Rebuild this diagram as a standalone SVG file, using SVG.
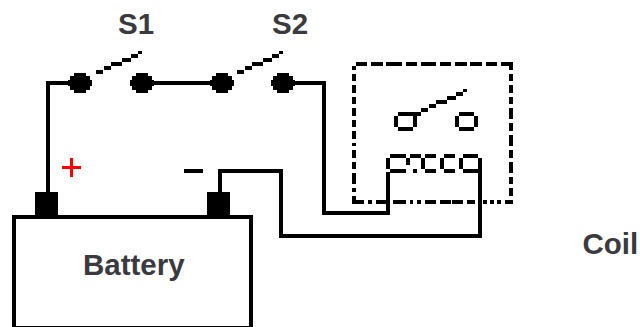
<svg xmlns="http://www.w3.org/2000/svg" width="640" height="327" viewBox="0 0 640 327">
<style>
.w{fill:none;stroke:#000;stroke-width:4;shape-rendering:crispEdges}
.t{font-family:"Liberation Sans",Arial,sans-serif;font-weight:bold;font-size:29.500px;fill:#3a3a40}
.d{fill:#000;shape-rendering:crispEdges}
</style>
<defs>
<path id="dot" d="M-6-10H6V-7H10V-3H12V3H10V7H6V10H-6V7H-10V3H-12V-3H-10V-7H-6Z"/>
<path id="arm" d="M0 19H7V15H0ZM8 15H15V11H8ZM15 11H26V7H15ZM26 7H35V3H26ZM35 3H42V-1H35ZM42-1H46V-4H42Z"/>
</defs>
<rect width="640" height="327" fill="#fff"/>
<g id="connectors">
<path class="w" d="M48 192V83H80M142 83H222M283 83H323.500V213H388V172"/>
<path class="w" d="M220 192V171H281V236H480V158"/>
</g>
<g id="battery">
<rect class="w" x="14" y="217" width="237" height="111"/>
<rect class="d" x="35" y="192" width="23" height="24"/>
<rect class="d" x="207" y="192" width="23" height="24"/>
<text class="t" x="83" y="275">Battery</text>
<path d="M62 167.500H81M71.500 158V177" stroke="#f00" stroke-width="3.500" fill="none" shape-rendering="crispEdges"/>
<rect class="d" x="184" y="169" width="19" height="4"/>
</g>
<g id="s1">
<use class="d" href="#dot" x="80" y="83"/>
<use class="d" href="#dot" x="142" y="83"/>
<use class="d" href="#arm" x="96" y="55"/>
<text class="t" x="118" y="34">S1</text>
</g>
<g id="s2">
<use class="d" href="#dot" x="222" y="83"/>
<use class="d" href="#dot" x="283" y="83"/>
<use class="d" href="#arm" x="237" y="55"/>
<text class="t" x="272" y="34">S2</text>
</g>
<g id="relay">
<path class="d" d="M356 62H367V66H356ZM371 62H383V66H371ZM386 62H402V66H386ZM406 62H417V66H406ZM421 62H436V66H421ZM440 62H451V66H440ZM455 62H467V66H455ZM470 62H482V66H470ZM486 62H497V66H486ZM501 62H513V70H509V66H501Z"/>
<path class="d" d="M352 66H356V70H352ZM352 74H356V81H352ZM352 85H356V93H352ZM352 97H356V104H352ZM352 108H356V116H352ZM352 120H356V127H352ZM352 131H356V139H352ZM352 143H356V146H352ZM352 150H356V158H352ZM352 162H356V169H352ZM352 173H356V184H352ZM352 188H356V192H352ZM352 196H356V200H364V204H352Z"/>
<path class="d" d="M509 74H513V81H509ZM509 85H513V93H509ZM509 97H513V104H509ZM509 108H513V119H509ZM509 123H513V131H509ZM509 135H513V146H509ZM509 150H513V158H509ZM509 162H513V173H509ZM509 177H513V184H509ZM509 188H513V196H509ZM505 200H513V204H505Z"/>
<path class="d" d="M368 200H372V204H368ZM376 200H386V204H376ZM393 200H406V204H393ZM410 200H413V204H410ZM417 200H421V204H417ZM425 200H436V204H425ZM440 200H451V204H440ZM452 200H463V204H452ZM467 200H475V204H467ZM483 200H487V204H483ZM490 200H494V204H490ZM497 200H501V204H497Z"/>
<path class="d" d="M398 112H421V116H417V127H413V116H398V127H413V131H398V127H394V116H398Z"/>
<path class="d" d="M459 112H474V116H478V127H474V131H459V127H455V116H459ZM459 116V127H474V116Z" fill-rule="evenodd"/>
<use class="d" href="#arm" x="421" y="93"/>
<path class="d" d="M390 154H406V158H390V169H406V173H390V169H386V158H390ZM406 158H410V165H406ZM413 169H417V173H413ZM410 154H421V158H410ZM425 154H436V158H425ZM421 158H425V169H421ZM425 169H436V173H425ZM444 154H455V158H444ZM440 158H444V169H440ZM444 169H455V173H444ZM463 154H478V158H463ZM459 158H463V169H459ZM463 169H478V173H463Z"/>
</g>
<g id="coil-label"><text class="t" x="582.500" y="253.500">Coil</text></g>
</svg>
